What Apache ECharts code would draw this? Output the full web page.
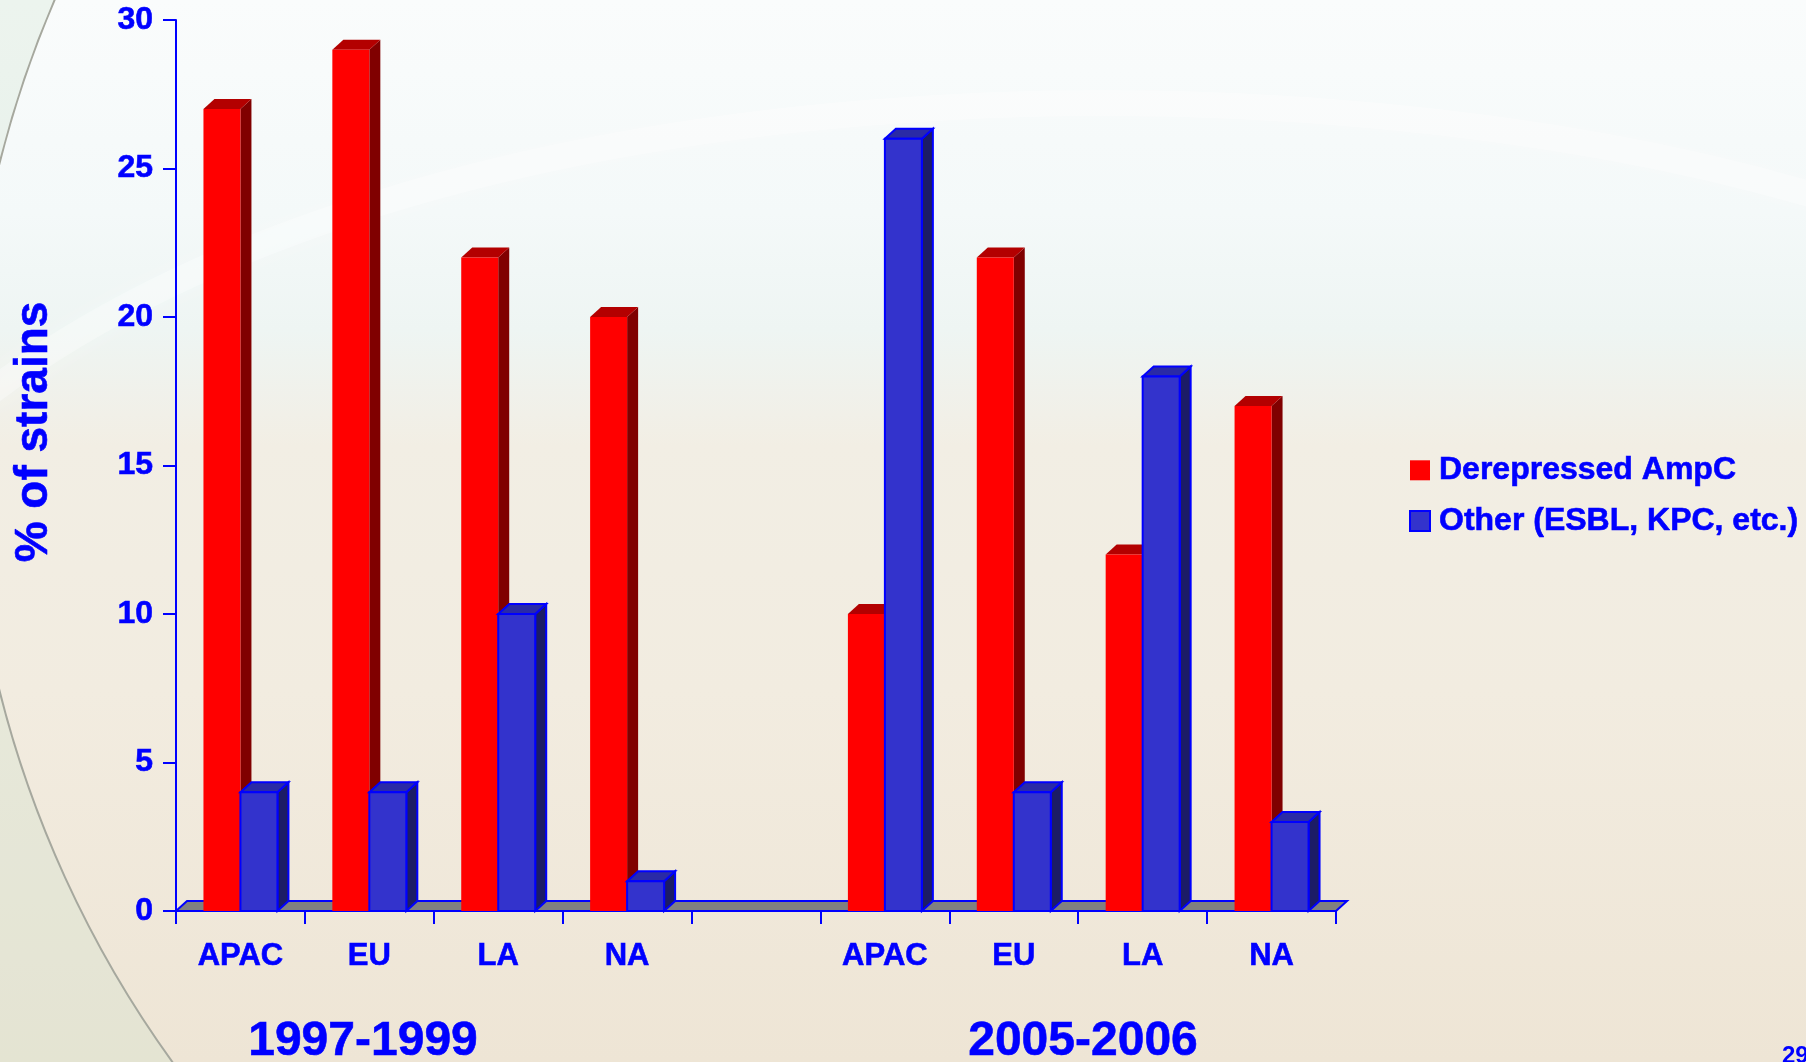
<!DOCTYPE html>
<html><head><meta charset="utf-8">
<script src="https://cdn.jsdelivr.net/npm/echarts@6/dist/echarts.min.js"></script>
<style>html,body{margin:0;padding:0;overflow:hidden;}#c{width:1806px;height:1062px;}</style>
</head><body><div id="c"></div>
<script>
// ---- data ----
const categories = ['APAC', 'EU', 'LA', 'NA', '', 'APAC', 'EU', 'LA', 'NA'];
const derepressedAmpC = [27, 29, 22, 20, null, 10, 22, 12, 17];
const otherESBL = [4, 4, 10, 1, null, 26, 4, 18, 3];
const yTicks = [0, 5, 10, 15, 20, 25, 30];
const periods = ['1997-1999', '2005-2006'];
const seriesNames = ['Derepressed AmpC', 'Other (ESBL, KPC, etc.)'];

// ---- style ----
const BLUE = '#0000FF';
const FONT = '"Liberation Sans", Arial, sans-serif';
const DX = 11, DY = 10;
const redFaces = { front: '#FF0000', side: '#800000', top: '#B30000' };
const blueFaces = { front: '#3333CC', side: '#1C1C66', top: '#2A2AA6' };
const heavy = { textBorderColor: BLUE, textBorderWidth: 0.6 };

function toPairs(arr) {
  const out = [];
  arr.forEach((v, i) => { if (v !== null) out.push([i, v]); });
  return out;
}

function barRenderer(side, faces, stroke) {
  return function (params, api) {
    const idx = api.value(0), val = api.value(1);
    const top = api.coord([idx, val]);
    const base = api.coord([idx, 0]);
    const bw = api.size([1, 0])[0] * 0.287;
    const x1 = side === 0 ? top[0] - bw : top[0];
    const x2 = x1 + bw;
    const yT = top[1], yB = base[1];
    const st = stroke ? { stroke: stroke, lineWidth: 2, lineJoin: 'miter' } : { lineWidth: 0 };
    return {
      type: 'group', children: [
        { type: 'polygon', shape: { points: [[x2, yT], [x2 + DX, yT - DY], [x2 + DX, yB - DY], [x2, yB]] },
          style: Object.assign({ fill: faces.side }, st) },
        { type: 'polygon', shape: { points: [[x1, yT], [x1 + DX, yT - DY], [x2 + DX, yT - DY], [x2, yT]] },
          style: Object.assign({ fill: faces.top }, st) },
        { type: 'rect', shape: { x: x1, y: yT, width: bw, height: yB - yT },
          style: Object.assign({ fill: faces.front }, st) }
      ]
    };
  };
}

// decorative arc region (slide template)
const ARC = { cx: 1051, cy: 427, r: 1084 };
const arcPts = [];
for (let a = 2.42; a <= 3.62; a += 0.01) {
  arcPts.push([ARC.cx + ARC.r * Math.cos(a), ARC.cy + ARC.r * Math.sin(a)]);
}
const leftRegion = arcPts.concat([[-50, -50], [-50, 1120]]);

function txt(x, y, text, size, rotation) {
  return { type: 'text', x: x, y: y, rotation: rotation || 0,
    style: Object.assign({ text: text, fill: BLUE, font: 'bold ' + size + 'px ' + FONT,
      align: 'center', verticalAlign: 'middle', textAlign: 'center', textVerticalAlign: 'middle',
      stroke: BLUE, lineWidth: 0.6 }) };
}

const chart = echarts.init(document.getElementById('c'), null, { renderer: 'canvas' });
chart.setOption({
  animation: false,
  backgroundColor: {
    type: 'linear', x: 0, y: 0, x2: 0, y2: 1,
    colorStops: [
      { offset: 0, color: '#FAFCFC' },
      { offset: 0.2, color: '#F4F9F9' },
      { offset: 0.31, color: '#EEF5F3' },
      { offset: 0.42, color: '#F2EEE4' },
      { offset: 0.65, color: '#F2ECE0' },
      { offset: 1, color: '#EEE5D5' }
    ]
  },
  grid: { left: 176, right: 470, top: 20, bottom: 151, containLabel: false },
  legend: {
    orient: 'vertical', left: 1409, top: 454, padding: 0, itemWidth: 20, itemHeight: 20, itemGap: 18,
    icon: 'rect', selectedMode: false,
    data: [
      { name: seriesNames[0], itemStyle: { color: redFaces.front, borderWidth: 0 } },
      { name: seriesNames[1], itemStyle: { color: blueFaces.front, borderColor: BLUE, borderWidth: 2 } }
    ],
    textStyle: Object.assign({ color: BLUE, fontSize: 32, fontWeight: 'bold', fontFamily: FONT, lineHeight: 30, padding: [0, 0, 0, 4] }, heavy)
  },
  xAxis: {
    type: 'category', data: categories, boundaryGap: true,
    axisLine: { show: true, lineStyle: { color: BLUE, width: 2 } },
    axisTick: { show: true, length: 13, interval: 0, lineStyle: { color: BLUE, width: 2 } },
    axisLabel: Object.assign({ interval: 0, color: BLUE, fontSize: 31, fontWeight: 'bold', fontFamily: FONT, margin: 30 }, heavy),
    splitLine: { show: false }
  },
  yAxis: {
    type: 'value', min: yTicks[0], max: yTicks[yTicks.length - 1], interval: yTicks[1] - yTicks[0],
    axisLine: { show: true, lineStyle: { color: BLUE, width: 2 } },
    axisTick: { show: true, length: 13, lineStyle: { color: BLUE, width: 2 } },
    axisLabel: Object.assign({ color: BLUE, fontSize: 32, fontWeight: 'bold', fontFamily: FONT, margin: 23 }, heavy),
    splitLine: { show: false }
  },
  graphic: [
    { type: 'bezierCurve', z: -11, silent: true,
      shape: { x1: -20, y1: 400, cpx1: 420, cpy1: 60, cpx2: 1300, cpy2: 40, x2: 1830, y2: 200 },
      style: { stroke: 'rgba(255,255,255,0.3)', lineWidth: 26, fill: null, shadowBlur: 30, shadowColor: 'rgba(255,255,255,0.8)' } },
    { type: 'polygon', z: -10, silent: true, shape: { points: leftRegion }, style: { fill: 'rgba(205,225,205,0.3)' } },
    { type: 'arc', z: -9, silent: true, shape: { cx: ARC.cx, cy: ARC.cy, r: ARC.r, startAngle: 2.42, endAngle: 3.62, clockwise: true },
      style: { stroke: '#A6A89E', lineWidth: 2, fill: null } },
    txt(34, 432, '% of strains', 46, Math.PI / 2),
    txt(363, 1042, periods[0], 48),
    txt(1083, 1042, periods[1], 48),
    { type: 'text', x: 1782, y: 1044,
      style: { text: '29', fill: BLUE, font: 'bold 24px ' + FONT, align: 'left', verticalAlign: 'top', textAlign: 'left', textVerticalAlign: 'top' } }
  ],
  series: [
    {
      type: 'custom', name: 'floor', data: [[0, 0]], z: 1, silent: true,
      encode: { x: 0, y: 1 },
      renderItem: function (params, api) {
        const cs = params.coordSys;
        const yB = api.coord([0, 0])[1];
        const xL = cs.x, xR = cs.x + cs.width;
        return { type: 'polygon', shape: { points: [[xL, yB], [xL + DX, yB - DY], [xR + DX, yB - DY], [xR, yB]] },
          style: { fill: '#808080', stroke: BLUE, lineWidth: 2 } };
      }
    },
    {
      type: 'custom', name: seriesNames[0], data: toPairs(derepressedAmpC), z: 2,
      encode: { x: 0, y: 1 }, itemStyle: { color: redFaces.front },
      renderItem: barRenderer(0, redFaces, null)
    },
    {
      type: 'custom', name: seriesNames[1], data: toPairs(otherESBL), z: 3,
      encode: { x: 0, y: 1 }, itemStyle: { color: blueFaces.front, borderColor: BLUE, borderWidth: 2 },
      renderItem: barRenderer(1, blueFaces, BLUE)
    }
  ]
});
</script>
</body></html>
